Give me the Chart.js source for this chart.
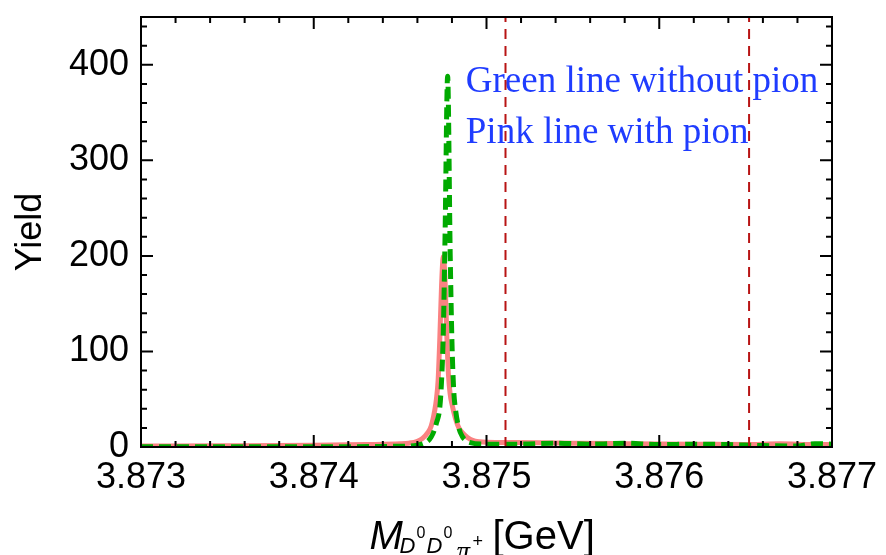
<!DOCTYPE html>
<html>
<head>
<meta charset="utf-8">
<script src="https://cdn.jsdelivr.net/npm/chart.js@4.4.1/dist/chart.umd.min.js"></script>
<style>
  body { margin: 0; background: #fff; }
</style>
</head>
<body>
<canvas id="myChart" width="886" height="555"></canvas>
<script>
// axis ticks
const xTicks = [3.873, 3.874, 3.875, 3.876, 3.877];
const yTicks = [0, 100, 200, 300, 400];

// pink line (with pion)
const pinkX = [3.8730, 3.8735, 3.8740, 3.8743, 3.8745, 3.87455, 3.8746, 3.87463, 3.87466, 3.87468,
    3.8747, 3.87471, 3.87472, 3.87473, 3.87474, 3.87475, 3.87476, 3.87477, 3.87478, 3.87479,
    3.8748, 3.87482, 3.87484, 3.87486, 3.87489, 3.87492, 3.87496, 3.8750, 3.8751, 3.8753,
    3.8755, 3.8758, 3.8762, 3.8765, 3.8767, 3.8769, 3.8770];
const pinkY = [1, 1.3, 1.8, 2.5, 3.3, 4, 6, 9, 15, 22,
    38, 50, 70, 115, 170, 199, 175, 118, 75, 55,
    45, 30, 20, 15, 10, 7, 5.5, 5, 4.8, 4.5,
    4, 3.5, 3, 2.5, 3.5, 2.5, 2.5];

// green line (without pion)
const greenX = [3.8730, 3.8740, 3.8745, 3.8746, 3.87465, 3.87467, 3.87469, 3.87471, 3.87473, 3.87474,
    3.87475, 3.87476, 3.874775, 3.87479, 3.8748, 3.87481, 3.87482, 3.87484, 3.87486, 3.87488,
    3.8749, 3.8750, 3.8752, 3.8754, 3.8756, 3.8758, 3.8760, 3.8762, 3.8764, 3.8766,
    3.8768, 3.8769, 3.8770];
const greenY = [0.3, 0.3, 0.8, 2, 5, 8, 14, 25, 42, 70,
    120, 220, 388, 200, 110, 60, 40, 20, 11, 7,
    5, 3, 3, 4, 3, 4, 2.5, 3, 2.5, 1.5,
    1, 3.5, 3];

// thresholds (red dashed)
const thresholds = [3.87511, 3.87652];

// notes in the plot
const notes = ['Green line without pion', 'Pink line with pion'];
const noteX = 3.87488;
const noteY = [372, 318];

const toPoints = (xs, ys) => xs.map((x, i) => ({x: x, y: ys[i]}));

const sans = "'Liberation Sans', Arial, sans-serif";
const serif = "'Liberation Serif', 'Times New Roman', serif";

const notesPlugin = {
    id: 'notes',
    beforeDatasetsDraw(chart) {
        const {ctx, scales: {x, y}} = chart;
        ctx.save();
        ctx.fillStyle = '#1f3cff';
        ctx.font = '37px ' + serif;
        ctx.textAlign = 'left';
        ctx.textBaseline = 'alphabetic';
        notes.forEach((t, i) => {
            ctx.fillText(t, x.getPixelForValue(noteX), y.getPixelForValue(noteY[i]));
        });
        ctx.restore();
    }
};

// frame with inward ticks on all four sides, plus the x axis title
const framePlugin = {
    id: 'frame',
    afterDatasetsDraw(chart) {
        const {ctx, chartArea: a, scales: {x, y}} = chart;
        ctx.save();
        ctx.strokeStyle = '#000';
        ctx.lineWidth = 2;
        ctx.beginPath();
        for (let i = 0; i <= 20; i++) {
            const px = x.getPixelForValue(xTicks[0] + i * 0.0002);
            const len = i % 5 === 0 ? 12 : 6;
            ctx.moveTo(px, a.bottom); ctx.lineTo(px, a.bottom - len);
            ctx.moveTo(px, a.top); ctx.lineTo(px, a.top + len);
        }
        for (let v = 0; v <= 440; v += 20) {
            const py = y.getPixelForValue(v);
            const len = v % 100 === 0 ? 12 : 6;
            ctx.moveTo(a.left, py); ctx.lineTo(a.left + len, py);
            ctx.moveTo(a.right, py); ctx.lineTo(a.right - len, py);
        }
        ctx.stroke();
        ctx.strokeRect(a.left, a.top, a.right - a.left, a.bottom - a.top);

        // x title: M_{D0 D0 pi+} [GeV]
        const cx = (a.left + a.right) / 2;
        const parts = [
            ['italic 40px ' + sans, 'M', -117, 549],
            ['italic 22px ' + sans, 'D', -87, 553],
            ['16px ' + sans, '0', -70, 538],
            ['italic 22px ' + sans, 'D', -60, 553],
            ['16px ' + sans, '0', -43, 538],
            ['italic 27px ' + serif, 'π', -30, 560],
            ['18px ' + sans, '+', -14, 547],
            ['40px ' + sans, '[GeV]', 6, 549]
        ];
        ctx.fillStyle = '#000';
        ctx.textAlign = 'left';
        ctx.textBaseline = 'alphabetic';
        parts.forEach(p => {
            ctx.font = p[0];
            ctx.fillText(p[1], cx + p[2], p[3]);
        });
        ctx.restore();
    }
};

const ctx = document.getElementById('myChart').getContext('2d');
const datasets = [
    {
        label: 'pink',
        data: toPoints(pinkX, pinkY),
        borderColor: '#fa8282',
        borderWidth: 5,
        cubicInterpolationMode: 'monotone',
        order: 3
    },
    {
        label: 'green',
        data: toPoints(greenX, greenY),
        borderColor: '#00aa00',
        borderWidth: 5,
        borderDash: [12, 6],
        cubicInterpolationMode: 'monotone',
        order: 2
    }
];
thresholds.forEach(t => {
    datasets.push({
        label: 'threshold',
        data: [{x: t, y: 0}, {x: t, y: 450}],
        borderColor: '#b81414',
        borderWidth: 2,
        borderDash: [10, 7],
        order: 1
    });
});

let myChart = new Chart(ctx, {
    type: 'line',
    data: { datasets: datasets },
    options: {
        responsive: false,
        animation: false,
        layout: { padding: { top: 17, right: 54, left: 0, bottom: 0 } },
        elements: { point: { radius: 0 } },
        plugins: {
            legend: { display: false },
            tooltip: { enabled: false }
        },
        scales: {
            x: {
                type: 'linear',
                min: 3.873,
                max: 3.877,
                grid: { display: false, drawTicks: false },
                border: { display: false },
                afterBuildTicks: s => { s.ticks = xTicks.map(v => ({value: v})); },
                afterFit: s => { s.height = 108; s.paddingLeft = 0; s.paddingRight = 0; },
                ticks: {
                    padding: 9,
                    color: '#000',
                    maxRotation: 0,
                    font: { family: sans, size: 36 },
                    callback: v => v.toFixed(3)
                }
            },
            y: {
                min: 0,
                max: 450,
                grid: { display: false, drawTicks: false },
                border: { display: false },
                afterBuildTicks: s => { s.ticks = yTicks.map(v => ({value: v})); },
                afterFit: s => { s.width = 141; s.paddingTop = 0; s.paddingBottom = 0; },
                ticks: {
                    padding: 12,
                    color: '#000',
                    font: { family: sans, size: 36 }
                },
                title: {
                    display: true,
                    text: 'Yield',
                    color: '#000',
                    padding: { top: 9, bottom: 0 },
                    font: { family: sans, size: 36 }
                }
            }
        }
    },
    plugins: [notesPlugin, framePlugin]
});
</script>
</body>
</html>
